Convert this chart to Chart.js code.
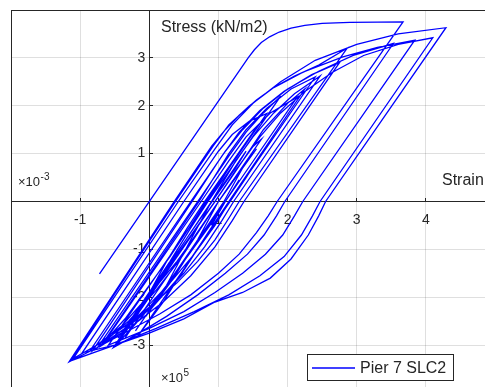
<!DOCTYPE html>
<html>
<head>
<meta charset="utf-8">
<script src="https://cdn.jsdelivr.net/npm/chart.js@4.4.1/dist/chart.umd.min.js"></script>
<style>
  html, body { margin: 0; padding: 0; background: #fff; overflow: hidden; width: 485px; height: 387px; }
  #wrap { position: absolute; left: 0; top: 0; width: 500px; height: 400px; }
</style>
</head>
<body>
<div id="wrap"><canvas id="hyst" width="500" height="400"></canvas></div>
<script>
// Strain (x 10^-3) and stress (x 10^5 kN/m2), one branch per line
const strain = [
  0, -0.72, 1.43, 1.52, 1.62, 1.74, 1.88, 2.05, 2.25, 2.50, 2.90, 3.30, 3.67,
  1.85, 1.72, 1.55, 1.30, 1.00, 0.60, 0.15, -0.30, -0.75, -1.16,
  0.36, 0.90, 1.10, 1.30, 1.55, 1.80, 2.10, 2.45, 2.86,
  1.30, 1.15, 0.95, 0.70, 0.40, 0.05, -0.35, -0.70, -1.10,
  0.42, 0.95, 1.20, 1.50, 1.90, 2.40, 3.00, 3.60, 4.29,
  2.55, 2.45, 2.30, 2.05, 1.75, 1.35, 0.95, 0.50, 0.00, -0.50, -0.97,
  0.50, 1.00, 1.20, 1.45, 1.70,
  0.82, 0.60, 0.30, -0.05, -0.35, -0.64,
  0.75, 1.15, 1.40, 1.75, 2.14,
  1.10, 0.90, 0.60, 0.25, -0.10, -0.46,
  0.95, 1.35, 1.60, 1.90, 2.25, 2.65, 3.10, 3.60, 4.10,
  2.47, 2.36, 2.20, 1.95, 1.60, 1.15, 0.65, 0.10, -0.50, -1.14,
  0.38, 0.92, 1.15, 1.45, 1.80, 2.25, 2.80, 3.30, 3.84,
  2.22, 2.10, 1.93, 1.68, 1.35, 0.95, 0.50, 0.00, -0.59,
  0.84, 1.20, 1.40, 1.55,
  0.80, 0.55, 0.25, -0.05, -0.35,
  1.00, 1.21,
  1.00, 0.75, 0.40, 0.00, -0.40, -0.85,
  0.60, 1.10, 1.35, 1.65, 2.00, 2.45, 2.95, 3.53,
  1.96, 1.84, 1.66, 1.42, 1.10, 0.70, 0.25, -0.15, -0.52,
  0.90, 1.25, 1.50, 1.80, 2.10, 2.47,
  1.22, 1.05, 0.80, 0.50, 0.10, -0.35, -0.82,
  0.62, 1.05, 1.30, 1.60, 1.95, 2.35, 2.75,
  1.37, 1.20, 0.95, 0.60, 0.20, -0.25, -0.70,
  0.72, 1.15, 1.40, 1.70, 2.05, 2.40,
  1.16, 0.95, 0.65, 0.30, -0.10, -0.40,
  0.95, 1.35, 1.65, 2.00, 2.25,
  1.15, 0.90, 0.55, 0.20, -0.16,
  1.17, 1.40, 1.60,
  1.15, 0.85, 0.45, 0.05, -0.30,
  0.95, 1.25, 1.50, 1.62,
  1.00, 0.75, 0.45, 0.10, -0.30, -0.75,
  0.70, 1.15, 1.40, 1.65, 1.90,
  0.85, 0.60, 0.30, -0.05, -0.45,
  0.91, 1.25, 1.40,
  0.90, 0.60, 0.25, -0.20,
  1.08, 1.35, 1.55,
  1.00, 0.70, 0.35, -0.05,
  1.10, 1.30,
  1.10, 0.90
];
const stress = [
  0, -1.51, 3.00, 3.17, 3.32, 3.44, 3.54, 3.62, 3.68, 3.72, 3.74, 3.745, 3.75,
  0.00, -0.30, -0.65, -1.10, -1.50, -1.95, -2.35, -2.70, -3.05, -3.35,
  0.00, 1.15, 1.50, 1.80, 2.12, 2.38, 2.62, 2.85, 3.20,
  0.00, -0.35, -0.80, -1.25, -1.70, -2.15, -2.60, -2.95, -3.28,
  0.00, 1.10, 1.60, 2.05, 2.50, 2.95, 3.28, 3.50, 3.63,
  0.00, -0.30, -0.70, -1.20, -1.60, -1.90, -2.10, -2.45, -2.75, -3.00, -3.16,
  0.00, 1.05, 1.40, 1.68, 1.84,
  0.00, -0.50, -1.15, -1.85, -2.45, -2.91,
  0.00, 0.85, 1.35, 1.85, 2.18,
  0.00, -0.45, -1.05, -1.75, -2.40, -2.97,
  0.00, 0.85, 1.35, 1.85, 2.30, 2.70, 3.05, 3.28, 3.42,
  0.00, -0.30, -0.70, -1.15, -1.55, -1.95, -2.30, -2.65, -3.00, -3.33,
  0.00, 1.15, 1.60, 2.00, 2.38, 2.72, 3.02, 3.22, 3.37,
  0.00, -0.30, -0.70, -1.10, -1.50, -1.90, -2.30, -2.65, -3.00,
  0.00, 0.80, 1.22, 1.55,
  0.00, -0.55, -1.25, -2.05, -2.85,
  0.00, 0.44,
  0.00, -0.55, -1.25, -1.95, -2.60, -3.10,
  0.00, 1.05, 1.50, 1.95, 2.35, 2.72, 3.05, 3.30,
  0.00, -0.30, -0.70, -1.10, -1.50, -1.95, -2.40, -2.75, -3.05,
  0.00, 0.85, 1.35, 1.85, 2.25, 2.62,
  0.00, -0.40, -0.95, -1.50, -2.10, -2.65, -3.12,
  0.00, 0.95, 1.45, 1.90, 2.30, 2.65, 2.90,
  0.00, -0.40, -0.95, -1.55, -2.10, -2.60, -3.02,
  0.00, 1.00, 1.50, 1.95, 2.35, 2.60,
  0.00, -0.50, -1.10, -1.70, -2.30, -2.75,
  0.00, 0.85, 1.50, 2.05, 2.35,
  0.00, -0.55, -1.30, -2.10, -2.80,
  0.00, 0.50, 0.95,
  0.00, -0.65, -1.55, -2.20, -2.60,
  0.00, 0.65, 1.15, 1.30,
  0.00, -0.55, -1.20, -1.85, -2.50, -3.05,
  0.00, 0.95, 1.45, 1.85, 2.20,
  0.00, -0.55, -1.25, -2.00, -2.85,
  0.00, 0.70, 1.05,
  0.00, -0.80, -1.75, -2.70,
  0.00, 0.70, 1.10,
  0.00, -0.80, -1.60, -2.40,
  0.00, 0.45,
  0.00, -0.50
];
const strainTickLabels = [-1, 1, 2, 3, 4];
const stressTickLabels = [3, 2, 1, -1, -2, -3];
const seriesName = 'Pier 7 SLC2';

const ink = '#262626';
const gridInk = 'rgba(38,38,38,0.15)';
const face = 'Liberation Sans, Arial, Helvetica, sans-serif';

// Axis captions, exponent markers and the boxed legend
const annotations = {
  id: 'annotations',
  afterDraw(chart) {
    const ctx = chart.ctx;
    ctx.save();
    ctx.fillStyle = ink;
    ctx.textBaseline = 'alphabetic';
    ctx.textAlign = 'left';
    ctx.font = '16px ' + face;
    ctx.fillText('Stress (kN/m2)', 161, 32);
    ctx.fillText('Strain', 442, 185);

    const exponent = (x, y, base, sup) => {
      ctx.font = '13px ' + face;
      ctx.fillText(base, x, y);
      const w = ctx.measureText(base).width;
      ctx.font = '10px ' + face;
      ctx.fillText(sup, x + w + 0.5, y - 6);
    };
    exponent(18, 186, '\u00d710', '-3');
    exponent(161, 382, '\u00d710', '5');

    // legend
    const ds = chart.data.datasets[0];
    ctx.fillStyle = '#ffffff';
    ctx.fillRect(307.5, 354.5, 146, 26);
    ctx.strokeStyle = ink;
    ctx.lineWidth = 1;
    ctx.strokeRect(307.5, 354.5, 146, 26);
    ctx.strokeStyle = ds.borderColor;
    ctx.lineWidth = ds.borderWidth;
    ctx.beginPath();
    ctx.moveTo(312, 368);
    ctx.lineTo(355, 368);
    ctx.stroke();
    ctx.fillStyle = ink;
    ctx.font = '16px ' + face;
    ctx.fillText(ds.label, 360, 373);
    ctx.restore();
  }
};

// origin-crossing axes take no layout room, so the plot box is set by the padding alone
const flatten = (s, horizontal) => {
  if (horizontal) s.height = 0; else s.width = 0;
  s.paddingLeft = s.paddingRight = s.paddingTop = s.paddingBottom = 0;
};

new Chart(document.getElementById('hyst'), {
  type: 'scatter',
  data: {
    datasets: [{
      label: seriesName,
      data: strain.map((x, i) => ({ x: x, y: stress[i] })),
      showLine: true,
      borderColor: '#0000ff',
      borderWidth: 1.3,
      pointRadius: 0,
      tension: 0,
      fill: false
    }]
  },
  options: {
    responsive: false,
    animation: false,
    devicePixelRatio: 1,
    layout: { padding: { left: 11, top: 10, right: 5, bottom: 7 } },
    plugins: { legend: { display: false }, tooltip: { enabled: false } },
    scales: {
      x: {
        type: 'linear', min: -2, max: 5, position: { y: 0 },
        afterFit(s) { flatten(s, true); },
        ticks: {
          stepSize: 1, autoSkip: false, maxRotation: 0, padding: 14,
          color: ink, font: { family: face, size: 14 },
          callback: v => strainTickLabels.includes(v) ? String(v) : ''
        },
        grid: {
          color: c => (c.tick && c.tick.value === -2) ? ink : gridInk,
          lineWidth: 1, tickLength: -4, tickColor: ink
        },
        border: { color: ink, width: 1 }
      },
      y: {
        type: 'linear', min: -4, max: 4, position: { x: 0 },
        afterFit(s) { flatten(s, false); },
        ticks: {
          stepSize: 1, autoSkip: false, padding: 15,
          color: ink, font: { family: face, size: 14 },
          // labels sit right-aligned against the centre axis; the trailing space keeps a small gap
          callback: v => stressTickLabels.includes(v) ? String(v) + ' ' : ''
        },
        grid: {
          color: c => (c.tick && c.tick.value === 4) ? ink : gridInk,
          lineWidth: 1, tickLength: -4, tickColor: ink
        },
        border: { color: ink, width: 1 }
      }
    }
  },
  plugins: [annotations]
});
</script>
</body>
</html>
